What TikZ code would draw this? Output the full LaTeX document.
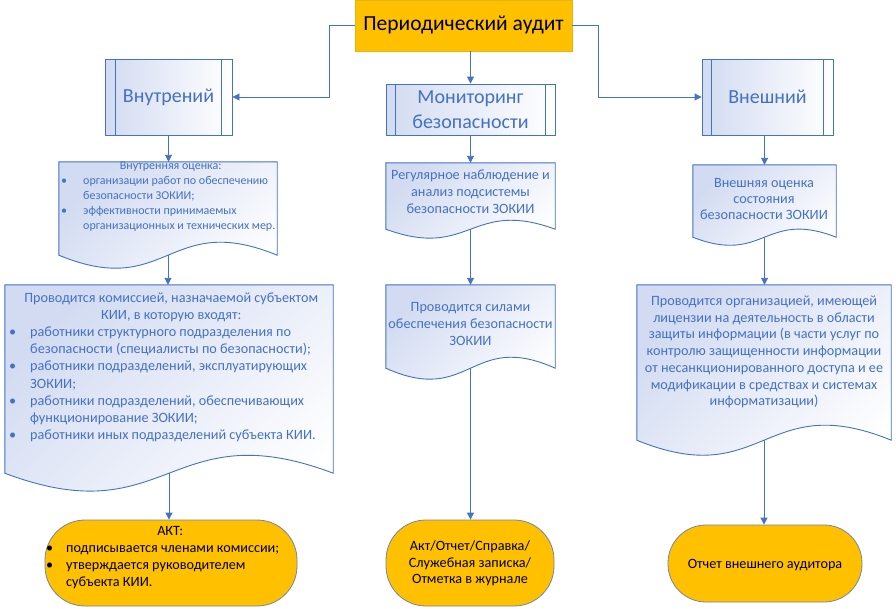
\documentclass[tikz,border=0pt]{standalone}
\usepackage{fontspec}
\setmainfont{Carlito}
\usepackage{array}
\usetikzlibrary{arrows.meta,calc}
\definecolor{vblue}{HTML}{4472C4}
\definecolor{vtext}{HTML}{4472C4}
\definecolor{vgold}{HTML}{FFC000}
\definecolor{vtint}{HTML}{D2DBF1}
\definecolor{vterm}{HTML}{7485A6}
\newcommand{\docshape}[2]{%
  \path[docfill] (#1.north west) -- (#1.north east) -- (#1.south east)
    .. controls ($(#1.south)+(0,-#2)$) and ($(#1.south)+(0,#2)$) .. (#1.south west) -- cycle;}
\newcommand{\innerbars}[2]{%
  \draw[vblue,line width=0.8pt] ($(#1.north west)+(#2,0)$) -- ($(#1.south west)+(#2,0)$);
  \draw[vblue,line width=0.8pt] ($(#1.north east)+(-#2,0)$) -- ($(#1.south east)+(-#2,0)$);}
\newcolumntype{L}[1]{>{\raggedright\arraybackslash}p{#1}}
\begin{document}
\begin{tikzpicture}[x=1pt,y=-1pt,
  conn/.style={vblue,line width=0.9pt,-{Triangle[length=7pt,width=7pt]}},
  docfill/.style={draw=vblue,line width=0.9pt,top color=vtint,bottom color=white,shading angle=45},
  area/.style={rectangle,inner sep=0pt,draw=none},
  procbox/.style={rectangle,inner sep=0pt,draw=vblue,line width=0.9pt,left color=vtint,right color=white,
    text=vtext,font=\fontsize{20}{24.5}\selectfont,align=center},
  termbox/.style={rectangle,rounded corners=40pt,inner sep=0pt,draw=vterm,line width=0.8pt,fill=vgold},
  btext/.style={inner sep=0pt,text=vtext,font=\fontsize{14.2}{17}\selectfont,align=center},
  ktext/.style={inner sep=0pt,text=black,font=\fontsize{14.2}{17}\selectfont,align=center}]
\useasboundingbox (0,0) rectangle (896,608);
\fill[white] (0,0) rectangle (896,608);

% title
\node[rectangle,inner sep=0pt,fill=vgold,draw=vgold!80!gray,line width=0.5pt,
  minimum width=217pt,minimum height=51pt,font=\fontsize{21.5}{24}\selectfont]
  (title) at (463.5,25.5) {Периодический аудит};

% process boxes
\node[procbox,minimum width=127pt,minimum height=76pt] (int) at (168.5,97) {Внутрений};
\node[procbox,minimum width=169pt,minimum height=51pt] (mon) at (470.5,109.5) {Мониторинг\\безопасности};
\node[procbox,minimum width=131pt,minimum height=76pt] (ext) at (767.5,97) {Внешний};
\innerbars{int}{11}
\innerbars{mon}{10}
\innerbars{ext}{10}

% document areas
\node[area,minimum width=218pt,minimum height=93pt] (d1) at (168,208.5) {};
\node[area,minimum width=328pt,minimum height=188pt] (d2) at (169,379) {};
\node[area,minimum width=169pt,minimum height=66pt] (d3) at (470.5,196) {};
\node[area,minimum width=169pt,minimum height=83pt] (d4) at (470.5,326.5) {};
\node[area,minimum width=143pt,minimum height=72pt] (d5) at (764.5,201) {};
\node[area,minimum width=254pt,minimum height=155pt] (d6) at (764,362.5) {};
\docshape{d1}{45}
\docshape{d2}{62}
\docshape{d3}{31}
\docshape{d4}{38}
\docshape{d5}{28}
\docshape{d6}{52}

% terminators
\node[termbox,minimum width=252pt,minimum height=86pt] (t1) at (171,563) {};
\node[termbox,minimum width=168pt,minimum height=86pt] (t2) at (470,563) {};
\node[termbox,minimum width=194pt,minimum height=77pt,rounded corners=38pt] (t3) at (765,563.5) {};

% texts
\node[inner sep=0pt,anchor=west,text=vtext,font=\fontsize{12}{15}\selectfont] (d1t) at (61,196) {%
  \begin{tabular}{@{}L{22pt}@{}L{197pt}@{}}
  \multicolumn{2}{@{}c@{}}{Внутренняя оценка:}\\
  \textbullet & организации работ по обеспечению\\
   & безопасности ЗОКИИ;\\
  \textbullet & эффективности принимаемых\\
   & организационных и технических мер.
  \end{tabular}};
\node[inner sep=0pt,anchor=west,text=vtext,font=\fontsize{14.2}{17.1}\selectfont] (d2t) at (9,367.5) {%
  \begin{tabular}{@{}L{21pt}@{}L{303pt}@{}}
  \multicolumn{2}{@{}c@{}}{Проводится комиссией, назначаемой субъектом}\\
  \multicolumn{2}{@{}c@{}}{КИИ, в которую входят:}\\
  \textbullet & работники структурного подразделения по\\
   & безопасности (специалисты по безопасности);\\
  \textbullet & работники подразделений, эксплуатирующих\\
   & ЗОКИИ;\\
  \textbullet & работники подразделений, обеспечивающих\\
   & функционирование ЗОКИИ;\\
  \textbullet & работники иных подразделений субъекта КИИ.
  \end{tabular}};
\node[btext] (d3t) at (470.5,192) {Регулярное наблюдение и\\анализ подсистемы\\безопасности ЗОКИИ};
\node[btext] (d4t) at (470.5,323.5) {Проводится силами\\обеспечения безопасности\\ЗОКИИ};
\node[btext,font=\fontsize{14.2}{16}\selectfont] (d5t) at (764,199) {Внешняя оценка\\состояния\\безопасности ЗОКИИ};
\node[btext,font=\fontsize{14.2}{16.7}\selectfont] (d6t) at (764,352) {Проводится организацией, имеющей\\лицензии на деятельность в области\\защиты информации (в части услуг по\\контролю защищенности информации\\от несанкционированного доступа и ее\\модификации в средствах и системах\\информатизации)};
\node[inner sep=0pt,anchor=west,text=black,font=\fontsize{14.2}{17}\selectfont] (t1t) at (46,557.5) {%
  \begin{tabular}{@{}L{20pt}@{}L{228pt}@{}}
  \multicolumn{2}{@{}c@{}}{АКТ:}\\
  \textbullet & подписывается членами комиссии;\\
  \textbullet & утверждается руководителем\\
   & субъекта КИИ.
  \end{tabular}};
\node[ktext,font=\fontsize{14.2}{16.5}\selectfont] (t2t) at (470,563.5) {Акт/Отчет/Справка/\\Служебная записка/\\Отметка в журнале};
\node[ktext] (t3t) at (765,565) {Отчет внешнего аудитора};

% connectors
\draw[conn] (title.west) -- ++(-25,0) |- (int.east);
\draw[conn] (title.east) -- ++(26,0) |- (ext.west);
\draw[conn] (title.south -| mon.north) -- (mon.north);
\draw[conn] (int.south) -- (int.south |- d1.north);
\draw[conn] (d1.south) -- (d1.south |- d2.north);
\draw[conn] (d2.south) -- (d2.south |- t1.north);
\draw[conn] (mon.south) -- (d3.north);
\draw[conn] (d3.south) -- (d4.north);
\draw[conn] (d4.south) -- (d4.south |- t2.north);
\draw[conn] (ext.south -| d5.north) -- (d5.north);
\draw[conn] (d5.south) -- (d5.south |- d6.north);
\draw[conn] (d6.south) -- (d6.south |- t3.north);
\end{tikzpicture}
\end{document}
